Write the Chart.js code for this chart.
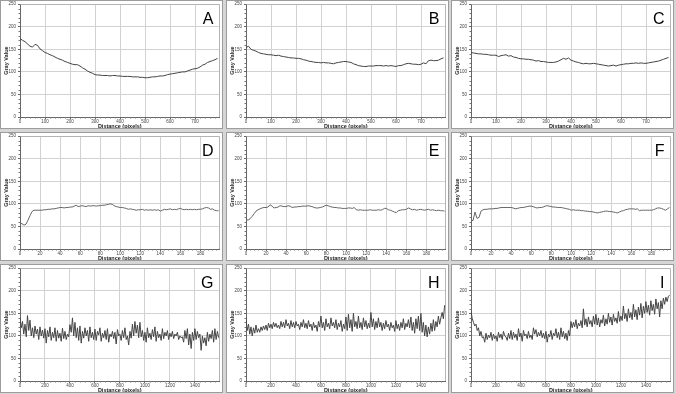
<!DOCTYPE html>
<html>
<head>
<meta charset="utf-8">
<script src="https://cdn.jsdelivr.net/npm/chart.js@4.4.1/dist/chart.umd.min.js"></script>
<style>
  html, body { margin: 0; padding: 0; }
  body { width: 676px; height: 394px; background: #d6d6d6; position: relative; overflow: hidden; }
  canvas { position: absolute; background: #fff; outline: 1px solid #9c9c9c; outline-offset: -1px; }
</style>
</head>
<body>
<canvas id="pA" width="223" height="129"></canvas>
<canvas id="pB" width="223" height="129"></canvas>
<canvas id="pC" width="223" height="129"></canvas>
<canvas id="pD" width="223" height="129"></canvas>
<canvas id="pE" width="223" height="129"></canvas>
<canvas id="pF" width="223" height="129"></canvas>
<canvas id="pG" width="223" height="129"></canvas>
<canvas id="pH" width="223" height="129"></canvas>
<canvas id="pI" width="223" height="129"></canvas>
<script>
// profile values (gray value), sampled every `step` pixels of distance
let stepLong = 10   // A, B, C
let stepShort = 2   // D, E, F
let stepNoisy = 10  // G, H, I

let ticksLong = [0, 100, 200, 300, 400, 500, 600, 700]
let ticksShort = [0, 20, 40, 60, 80, 100, 120, 140, 160, 180]
let ticksNoisy = [0, 200, 400, 600, 800, 1000, 1200, 1400]
let yTicks = [0, 50, 100, 150, 200, 250]

let valuesA = [174,170,167,162,157,155,161,159,151,147,
  143,141,138,136,133,130,128,126,123,121,
  119,117,116,116,113,109,106,102,99,97,
  94,93,93,92,92,92,91,92,92,91,
  91,90,90,90,90,89,89,89,88,88,
  87,87,88,89,89,90,91,91,92,94,
  95,96,97,98,99,100,100,102,104,106,
  107,108,111,115,117,121,123,125,127,130]

let valuesB = [154,157,150,148,146,143,141,140,139,138,
  138,137,136,137,135,134,133,132,131,131,
  130,130,129,127,126,124,123,122,121,121,
  120,121,120,120,119,118,120,121,122,123,
  123,122,121,118,116,114,113,112,112,113,
  113,113,114,114,114,113,114,113,114,113,
  112,114,114,116,118,119,118,117,117,116,
  117,120,118,125,126,125,125,126,129,131]

let valuesC = [143,142,141,140,140,139,139,138,137,137,
  137,134,136,137,138,135,136,133,132,130,
  129,129,128,128,127,126,124,125,123,123,
  122,121,121,121,122,124,127,130,128,131,
  126,124,122,121,119,118,119,118,118,119,
  118,117,116,115,114,113,114,115,113,115,
  116,117,118,118,119,119,120,119,120,119,
  119,120,121,122,123,124,126,128,130,132]

let valuesD = [57,56,53,55,64,74,83,86,86,86,
  86,86,87,87,88,88,89,89,90,91,
  92,92,91,92,92,93,93,95,97,94,
  95,96,95,94,96,95,96,96,95,96,
  96,97,97,98,99,100,99,96,94,93,
  92,92,91,90,88,89,88,87,86,87,
  87,88,86,87,86,87,86,87,86,87,
  84,86,88,87,88,89,87,88,87,89,
  90,88,87,88,87,88,87,88,87,88,
  88,89,91,92,91,88,89,86,85,85]

let valuesE = [66,64,67,72,78,84,87,89,91,92,
  92,93,98,95,91,92,93,96,95,94,
  94,96,95,92,93,93,94,94,95,95,
  95,96,95,94,92,91,91,92,93,95,
  97,96,94,93,92,92,91,91,90,90,
  90,91,91,90,92,87,86,87,86,86,
  86,86,87,86,86,86,87,86,87,90,
  90,87,86,84,82,81,85,86,87,87,
  88,91,89,87,88,86,87,88,87,86,
  87,88,86,87,86,85,86,85,85,84]

let valuesF = [64,63,82,68,70,84,87,88,88,89,
  89,89,90,90,91,92,92,92,92,92,
  92,91,89,90,91,92,92,93,94,95,
  95,94,92,91,92,92,93,95,96,95,
  94,93,93,92,92,92,91,90,89,88,
  86,87,86,86,86,85,85,84,84,83,
  83,82,81,80,81,82,83,84,84,83,
  83,82,81,80,82,84,85,87,88,89,
  89,89,88,89,85,86,86,86,86,86,
  86,87,89,91,91,90,88,86,89,92]

let valuesG = [140,118,132,104,126,98,145,112,135,100,
  118,96,122,104,115,92,120,100,113,95,
  116,84,112,98,120,90,108,96,118,88,
  112,95,106,88,117,94,110,92,104,98,
  125,108,140,100,130,96,118,90,122,84,
  110,95,118,100,112,88,120,96,108,92,
  115,90,110,102,118,88,106,96,112,92,
  116,86,104,98,110,94,108,82,114,100,
  104,90,112,96,118,92,100,80,110,95,
  126,100,132,106,124,96,130,98,112,90,
  108,86,118,96,106,92,114,98,120,88,
  110,96,104,90,116,94,108,100,112,92,
  106,98,110,94,104,100,108,92,100,96,
  98,86,112,94,116,80,104,72,108,90,
  116,92,110,96,104,68,100,84,96,78,
  108,88,104,94,112,86,116,92,110,96]

let valuesH = [138,112,126,104,120,100,118,106,124,108,
  116,108,120,112,122,114,124,112,128,118,
  126,116,130,120,128,118,124,116,132,120,
  130,118,136,122,128,116,134,120,130,118,
  132,122,126,114,130,120,136,118,128,116,
  134,120,126,112,130,118,124,110,132,120,
  144,118,130,112,138,120,128,116,140,122,
  130,118,136,114,128,120,134,110,126,116,
  142,112,148,118,136,110,150,120,132,116,
  144,118,130,114,140,120,134,116,128,118,
  152,120,138,114,132,118,140,120,130,112,
  128,116,134,120,126,112,130,118,124,110,
  134,116,126,112,130,118,138,114,128,120,
  136,118,142,112,130,106,138,116,144,112,
  150,108,130,100,124,98,120,104,128,110,
  136,112,132,120,144,126,140,152,138,168]

let valuesI = [155,138,130,122,126,112,118,100,110,96,
  98,86,106,92,102,96,108,90,104,94,
  100,88,108,96,104,92,110,100,98,90,
  106,94,112,92,108,96,104,90,116,98,
  106,88,112,100,104,94,110,96,102,92,
  118,104,114,98,108,100,112,96,106,94,
  110,86,104,98,112,92,106,100,116,96,
  108,92,118,98,110,94,106,90,112,100,
  132,118,130,120,136,116,128,122,134,118,
  160,124,138,120,142,126,134,120,144,126,
  148,124,140,120,136,128,146,122,138,126,
  150,130,142,124,148,132,140,128,154,132,
  144,134,166,138,150,132,160,140,152,136,
  170,142,158,136,164,146,172,140,166,150,
  176,152,168,146,178,156,170,148,182,160,
  174,142,178,160,184,170,186,176,188,190]

let xTitle = 'Distance (pixels)'
let yTitle = 'Gray Value'

let panels = [
  {id: 'pA', letter: 'A', values: valuesA, step: stepLong, xMax: 798, xTicks: ticksLong, col: 0, row: 0},
  {id: 'pB', letter: 'B', values: valuesB, step: stepLong, xMax: 798, xTicks: ticksLong, col: 1, row: 0},
  {id: 'pC', letter: 'C', values: valuesC, step: stepLong, xMax: 798, xTicks: ticksLong, col: 2, row: 0},
  {id: 'pD', letter: 'D', values: valuesD, step: stepShort, xMax: 199, xTicks: ticksShort, col: 0, row: 1},
  {id: 'pE', letter: 'E', values: valuesE, step: stepShort, xMax: 199, xTicks: ticksShort, col: 1, row: 1},
  {id: 'pF', letter: 'F', values: valuesF, step: stepShort, xMax: 199, xTicks: ticksShort, col: 2, row: 1},
  {id: 'pG', letter: 'G', values: valuesG, step: stepNoisy, xMax: 1597, xTicks: ticksNoisy, col: 0, row: 2},
  {id: 'pH', letter: 'H', values: valuesH, step: stepNoisy, xMax: 1597, xTicks: ticksNoisy, col: 1, row: 2},
  {id: 'pI', letter: 'I', values: valuesI, step: stepNoisy, xMax: 1597, xTicks: ticksNoisy, col: 2, row: 2},
]

let colX = [0, 226, 451]
let rowY = [0, 132, 264]

let tickFont = {family: 'Liberation Sans', size: 4.5, lineHeight: 1}
let titleFont = {family: 'Liberation Sans', size: 5.5, weight: 'bold', lineHeight: 1}

// light frame on the top and right side of the plot area
let plotFrame = {
  id: 'plotFrame',
  beforeDatasetsDraw(chart) {
    let {ctx, chartArea: a} = chart
    ctx.save()
    ctx.strokeStyle = '#b4b4b4'
    ctx.lineWidth = 1
    ctx.beginPath()
    ctx.moveTo(Math.round(a.left) + 0.5, Math.round(a.top) + 0.5)
    ctx.lineTo(Math.round(a.right) - 0.5, Math.round(a.top) + 0.5)
    ctx.lineTo(Math.round(a.right) - 0.5, Math.round(a.bottom))
    ctx.stroke()
    ctx.restore()
  },
}

// small minor tick marks between the labelled ticks (5 per interval)
let minorTicks = {
  id: 'minorTicks',
  afterDraw(chart) {
    let {ctx, chartArea: a, scales} = chart
    ctx.save()
    ctx.strokeStyle = '#777'
    ctx.lineWidth = 1
    ctx.beginPath()
    for (let key of ['x', 'y']) {
      let s = scales[key]
      let t = s.ticks.map(k => k.value)
      let d = (t[1] - t[0]) / 5
      for (let v = t[0] + d; v < s.max; v += d) {
        if (t.some(k => Math.abs(k - v) < 1e-6)) continue
        let px = Math.round(s.getPixelForValue(v))
        if (key === 'x') {
          ctx.moveTo(px + 0.5, Math.round(a.bottom))
          ctx.lineTo(px + 0.5, Math.round(a.bottom) + 1.5)
        } else {
          ctx.moveTo(Math.round(a.left), px + 0.5)
          ctx.lineTo(Math.round(a.left) - 1.5, px + 0.5)
        }
      }
    }
    ctx.stroke()
    ctx.restore()
  },
}

let panelLetter = {
  id: 'panelLetter',
  afterDraw(chart, args, opts) {
    let {ctx, chartArea: a} = chart
    ctx.save()
    ctx.fillStyle = '#000'
    ctx.font = '16px "Liberation Sans", Arial, sans-serif'
    ctx.textAlign = 'right'
    ctx.textBaseline = 'alphabetic'
    ctx.fillText(opts.letter, a.right - 6, a.top + 20)
    ctx.restore()
  },
}

for (let p of panels) {
  let canvas = document.getElementById(p.id)
  canvas.style.left = colX[p.col] + 'px'
  canvas.style.top = rowY[p.row] + 'px'
  let noisy = p.step === stepNoisy
  new Chart(canvas, {
    type: 'line',
    data: {
      datasets: [{
        data: p.values.map((v, i) => ({x: i * p.step, y: v})),
        borderColor: noisy ? '#454545' : '#666',
        borderWidth: 1,
        pointRadius: 0,
        tension: 0,
        fill: false,
      }],
    },
    options: {
      responsive: false,
      animation: false,
      events: [],
      layout: {padding: {top: 4, right: 3.5, left: 0, bottom: 0}},
      plugins: {
        legend: {display: false},
        tooltip: {enabled: false},
        panelLetter: {letter: p.letter},
      },
      scales: {
        x: {
          type: 'linear',
          min: 0,
          max: p.xMax,
          afterBuildTicks: s => { s.ticks = p.xTicks.map(v => ({value: v})) },
          ticks: {autoSkip: false, maxRotation: 0, padding: 1, font: tickFont, color: '#444', callback: v => String(v)},
          grid: {color: '#d2d2d2', tickColor: '#666', tickLength: 2},
          border: {color: '#666'},
          title: {display: true, text: xTitle, font: titleFont, color: '#222', padding: 0},
          afterFit: s => { s.height = 12 },
        },
        y: {
          min: yTicks[0],
          max: yTicks[yTicks.length - 1],
          afterBuildTicks: s => { s.ticks = yTicks.map(v => ({value: v})) },
          ticks: {padding: 2, font: tickFont, color: '#444', callback: v => String(v)},
          grid: {color: '#d2d2d2', tickColor: '#666', tickLength: 2},
          border: {color: '#666'},
          title: {display: true, text: yTitle, font: titleFont, color: '#222', padding: {top: 4, bottom: 0}},
          afterFit: s => { s.width = 20 },
        },
      },
    },
    plugins: [plotFrame, minorTicks, panelLetter],
  })
}
</script>
</body>
</html>
